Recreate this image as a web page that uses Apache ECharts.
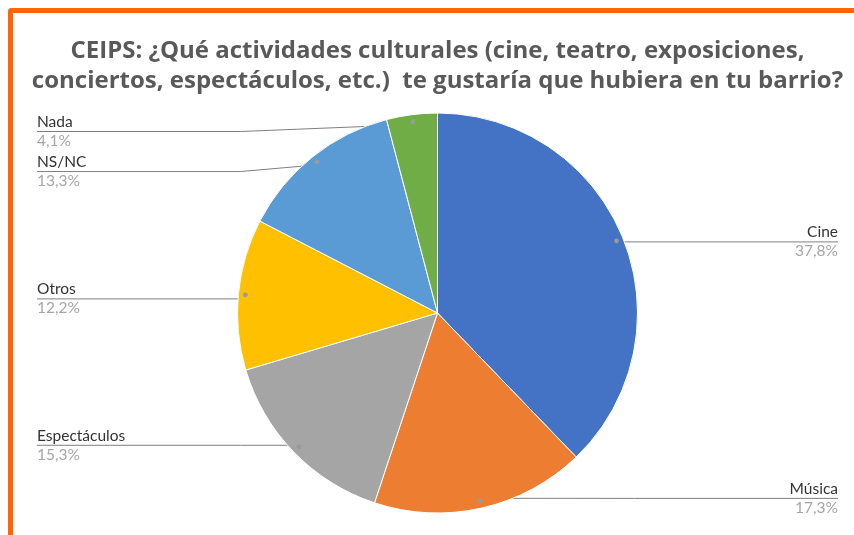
<!DOCTYPE html>
<html lang="es">
<head>
<meta charset="utf-8">
<title>CEIPS: actividades culturales</title>
<script src="https://cdn.jsdelivr.net/npm/echarts@6/dist/echarts.min.js"></script>
<style>
  html, body { margin: 0; padding: 0; background: #fff; width: 854px; height: 535px; overflow: hidden; position: relative; }
  .frame { position: absolute; left: 8px; top: 8px; right: -12px; bottom: -12px; border-top: 5px solid #ff6600; border-left: 5px solid #ff6600; border-top-left-radius: 4px; }
  #chart { position: absolute; left: 13px; top: 13px; width: 849px; height: 522px; }
</style>
</head>
<body>
<div class="frame"></div>
<div id="chart"></div>
<script>
// respuestas, en sentido horario desde las 12
const categories = ['Cine', 'Música', 'Espectáculos', 'Otros', 'NS/NC', 'Nada'];
const shares = [37.8, 17.3, 15.3, 12.2, 13.3, 4.1];
const colors = ['#4472c4', '#ed7d31', '#a5a5a5', '#ffc000', '#5b9bd5', '#70ad47'];
const titleLines = [
  'CEIPS: ¿Qué actividades culturales (cine, teatro, exposiciones,',
  'conciertos, espectáculos, etc.)  te gustaría que hubiera en tu barrio?'
];

(function(){
  const el = document.getElementById('chart');
  const chart = echarts.init(el, null, { renderer: 'canvas' });

  const FONT = 'Lato, "Open Sans", sans-serif';
  const TITLE_FONT = '"Open Sans", Lato, sans-serif';
  const R = 200;        // radio de la tarta
  const R_DOT = 190;    // donde arranca la línea guía
  const PIE_TOP = 100;  // límite superior para las etiquetas
  const CY = 300;
  const center = ['50%', CY - PIE_TOP];
  const box = { left: 0, right: 0, top: PIE_TOP, bottom: 0 };

  const pct = v => `${v.toFixed(1).replace('.', ',')}%`;
  const data = categories.map((name, i) => ({ name, value: shares[i], itemStyle: { color: colors[i] } }));
  const ghost = categories.map((name, i) => ({ name, value: shares[i] }));

  function moveLine(params){
    const pts = params.labelLinePoints;
    if (!pts) return {};
    const r = params.labelRect;
    const cx = chart.getWidth() / 2;
    const left = r.x + r.width / 2 < cx;
    const p = pts.map(q => q.slice());
    const y = r.y + r.height / 2;
    p[1][0] = left ? Math.min(p[0][0], cx - R + 3) : Math.max(p[0][0], cx + R - 3);
    p[2][0] = left ? r.x : r.x + r.width;
    p[1][1] = y;
    p[2][1] = y;
    return { labelLinePoints: p };
  }

  chart.setOption({
    animation: false,
    title: {
      text: titleLines.join('\n'),
      left: 'center',
      top: 18,
      textStyle: { fontFamily: TITLE_FONT, fontSize: 24, fontWeight: 'bold', color: '#595959', lineHeight: 30 }
    },
    series: [
      {
        type: 'pie',
        ...box,
        center,
        radius: R,
        startAngle: 90,
        data,
        label: { show: false },
        labelLine: { show: false },
        itemStyle: { borderColor: '#fff', borderWidth: 1 },
        emphasis: { disabled: true }
      },
      {
        type: 'pie',
        ...box,
        center,
        radius: R_DOT,
        startAngle: 90,
        silent: true,
        data: ghost,
        itemStyle: { color: 'rgba(0,0,0,0)' },
        emphasis: { disabled: true },
        label: {
          show: true,
          position: 'outer',
          alignTo: 'edge',
          edgeDistance: 24,
          formatter: p => `{n|${p.name}}\n{p|${pct(p.value)}}`,
          rich: {
            n: { fontFamily: FONT, fontSize: 15.5, color: '#333333', lineHeight: 19 },
            p: { fontFamily: FONT, fontSize: 15.5, color: '#a6a6a6', lineHeight: 19 }
          }
        },
        labelLine: { show: true, length: 0.1, length2: 10, lineStyle: { color: '#7f7f7f', width: 1 } },
        labelLayout: moveLine
      },
      {
        type: 'pie',
        ...box,
        center,
        radius: [R_DOT - 10, R_DOT + 10],
        startAngle: 90,
        silent: true,
        data: ghost,
        itemStyle: { color: 'rgba(0,0,0,0)' },
        emphasis: { disabled: true },
        label: { show: true, position: 'inside', formatter: '●', fontSize: 11, color: '#9a9a9a' },
        labelLine: { show: false }
      }
    ]
  });
})();
</script>
</body>
</html>
